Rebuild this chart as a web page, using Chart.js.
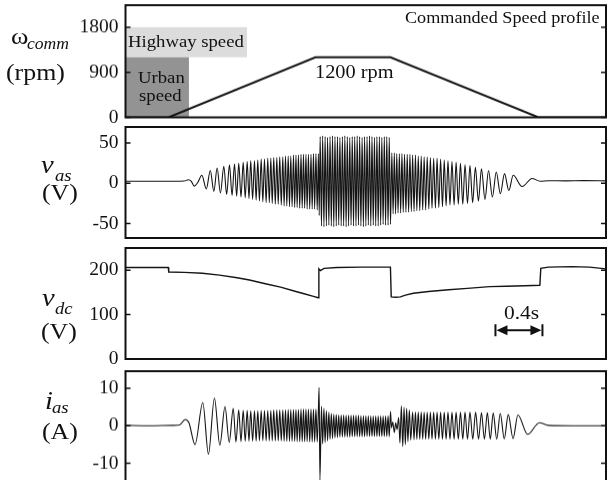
<!DOCTYPE html>
<html>
<head>
<meta charset="utf-8">
<script src="https://cdn.jsdelivr.net/npm/chart.js@4/dist/chart.umd.min.js"></script>
<style>
html, body { margin: 0; padding: 0; background: #fff; overflow: hidden; }
#page { position: relative; width: 610px; height: 480px; overflow: hidden; font-family: "Liberation Serif", "Times New Roman", serif; color: #111; }
.panel { position: absolute; left: 0; width: 610px; }
.lbl { position: absolute; white-space: nowrap; line-height: 1; transform: scaleX(1.1); transform-origin: 0 50%; }
.it { font-style: italic; }
</style>
</head>
<body>
<div id="page">
  <div class="panel" style="top:-17px;height:155.5px"><canvas id="speedChart"></canvas></div>
  <div class="panel" style="top:105px;height:155px"><canvas id="vasChart"></canvas></div>
  <div class="panel" style="top:226px;height:155px"><canvas id="vdcChart"></canvas></div>
  <div class="panel" style="top:349px;height:157.7px"><canvas id="iasChart"></canvas></div>

  <!-- axis titles -->
  <div class="lbl" style="left:11px;top:24px;font-size:24px">ω</div>
  <div class="lbl it" style="left:27px;top:35.5px;font-size:16px">comm</div>
  <div class="lbl" style="left:6px;top:61px;font-size:23.5px">(rpm)</div>

  <div class="lbl it" style="left:41px;top:152px;font-size:26px">v</div>
  <div class="lbl it" style="left:55px;top:166.5px;font-size:17px">as</div>
  <div class="lbl" style="left:42px;top:181px;font-size:23.5px">(V)</div>

  <div class="lbl it" style="left:42px;top:285px;font-size:26px">v</div>
  <div class="lbl it" style="left:55px;top:300px;font-size:17px">dc</div>
  <div class="lbl" style="left:41px;top:320px;font-size:23.5px">(V)</div>

  <div class="lbl it" style="left:45px;top:388px;font-size:26px">i</div>
  <div class="lbl it" style="left:52px;top:399px;font-size:17px">as</div>
  <div class="lbl" style="left:42px;top:420px;font-size:23.5px">(A)</div>

  <!-- annotations -->
  <div class="lbl" style="left:405px;top:10px;font-size:16.5px">Commanded Speed profile</div>
  <div class="lbl" style="left:128px;top:33px;font-size:17px">Highway speed</div>
  <div class="lbl" style="left:138px;top:69px;font-size:17px">Urban</div>
  <div class="lbl" style="left:139px;top:87px;font-size:17px">speed</div>
  <div class="lbl" style="left:315px;top:62.5px;font-size:18.5px">1200 rpm</div>
  <div class="lbl" style="left:504px;top:303px;font-size:19.5px">0.4s</div>
</div>

<script>
// time axis (s)
const timeEnd = 4.09;

// tick values per panel
const speedTicks = [0, 900, 1800];
const vasTicks = [-50, 0, 50];
const vdcTicks = [0, 100, 200];
const iasTicks = [-10, 0, 10];

// shaded speed ranges: [t0, t1, low rpm, high rpm]
const highwayBand = [0, 1.034, 1200, 1800];
const urbanBand = [0, 0.54, 0, 1200];

// 0.4 s scale bar on the vdc panel: [start s, length s, level V]
const scaleBar = [3.149, 0.4, 65];

// commanded speed [t, rpm]
const speedProfile = [[0, 0], [0.366, 0], [1.617, 1200], [2.255, 1200], [3.515, 0], [4.09, 0]];

// phase voltage peaks [t, V]
const vasWave = [
  [0.00, 2.5], [0.20, 2.6], [0.40, 2.5], [0.50, 2.8], [0.535, 4.5], [0.56, 2.5], [0.585, -3.5], [0.615, 1.0],
  [0.650, 10], [0.688, -7], [0.722, 16], [0.752, -10], [0.780, 19], [0.808, -12], [0.837, 21], [0.861, -14],
  [0.885, 23], [0.907, -15], [0.928, 24], [0.946, -16], [0.964, 25], [0.983, -17], [1.002, 26], [1.019, -18],
  [1.036, 27], [1.051, -19], [1.066, 28], [1.082, -20], [1.098, 28], [1.112, -21], [1.126, 29], [1.140, -22],
  [1.155, 30], [1.169, -23], [1.183, 30], [1.197, -24], [1.211, 31], [1.224, -24], [1.237, 31], [1.249, -25],
  [1.262, 32], [1.275, -26], [1.288, 32], [1.300, -26], [1.313, 33], [1.326, -27], [1.339, 33], [1.350, -28],
  [1.362, 34], [1.373, -28], [1.385, 34], [1.396, -29], [1.407, 34], [1.418, -29], [1.430, 35], [1.440, -30],
  [1.451, 35], [1.461, -30], [1.472, 35], [1.483, -31], [1.494, 36], [1.504, -31], [1.515, 36], [1.525, -31],
  [1.536, 36], [1.546, -32], [1.557, 36], [1.568, -32], [1.579, 36], [1.589, -32], [1.600, 37], [1.610, -32],
  [1.621, 37], [1.632, -33], [1.642, 37], [1.649, -40],
  [1.657, 58], [1.668, -53], [1.678, 59], [1.689, -54], [1.699, 58], [1.710, -53], [1.720, 57], [1.731, -52],
  [1.741, 58], [1.752, -53], [1.762, 59], [1.773, -54], [1.783, 58], [1.794, -53], [1.804, 58], [1.815, -52],
  [1.825, 57], [1.836, -53], [1.846, 58], [1.857, -53], [1.867, 59], [1.878, -54], [1.888, 58], [1.899, -53],
  [1.909, 57], [1.920, -52], [1.930, 58], [1.941, -53], [1.951, 58], [1.962, -53], [1.972, 59], [1.983, -52],
  [1.993, 58], [2.004, -53], [2.014, 57], [2.025, -54], [2.035, 58], [2.046, -53], [2.056, 58], [2.067, -52],
  [2.077, 59], [2.088, -53], [2.098, 58], [2.109, -52], [2.119, 57], [2.130, -53], [2.140, 58], [2.151, -53],
  [2.161, 58], [2.172, -52], [2.182, 57], [2.193, -51], [2.203, 58], [2.214, -52], [2.224, 58], [2.235, -52],
  [2.245, 57], [2.256, -51],
  [2.267, 38], [2.278, -38], [2.288, 38], [2.299, -38], [2.309, 37], [2.320, -37], [2.331, 37], [2.342, -37],
  [2.353, 37], [2.364, -36], [2.375, 36], [2.387, -36], [2.398, 36], [2.410, -36], [2.421, 36], [2.433, -35],
  [2.444, 35], [2.456, -35], [2.468, 35], [2.480, -34], [2.492, 34], [2.505, -34], [2.517, 34], [2.530, -33],
  [2.542, 33], [2.555, -33], [2.568, 33], [2.582, -32], [2.595, 32], [2.609, -31], [2.623, 31], [2.638, -31],
  [2.652, 31], [2.667, -30], [2.682, 30], [2.698, -29], [2.713, 29], [2.729, -28], [2.745, 28], [2.762, -27],
  [2.779, 27], [2.797, -27], [2.814, 26], [2.833, -26], [2.851, 25], [2.871, -26], [2.890, 23], [2.911, -25],
  [2.932, 22], [2.955, -24], [2.978, 20], [3.004, -22], [3.030, 18], [3.060, -20], [3.090, 16], [3.123, -17],
  [3.156, 14], [3.191, -13], [3.226, 12], [3.263, -9], [3.300, 10],
  [3.376, -4], [3.461, 6], [3.530, 2.5], [3.600, 3.2], [3.750, 3.0], [3.900, 3.3], [4.090, 3.0]
];

// dc link voltage [t, V]
const vdcLevel = [
  [0, 206], [0.20, 206], [0.364, 206], [0.368, 196], [0.50, 195], [0.655, 193], [0.80, 189], [0.95, 183],
  [1.055, 178], [1.20, 169], [1.32, 162], [1.45, 152], [1.52, 147], [1.60, 141], [1.640, 138], [1.646, 203],
  [1.660, 199], [1.690, 204], [1.80, 206], [2.00, 207], [2.255, 207], [2.262, 140], [2.30, 139], [2.34, 140],
  [2.383, 144], [2.45, 148], [2.58, 152], [2.75, 156], [2.91, 159], [3.10, 163], [3.24, 164], [3.40, 165],
  [3.527, 166], [3.535, 204], [3.60, 207], [3.80, 208], [3.95, 207], [4.09, 203]
];

// phase current peaks [t, A]
const iasWave = [
  [0.00, 0.1], [0.20, 0.0], [0.40, 0.1], [0.46, 0.2], [0.508, 1.7], [0.540, 0.8], [0.592, -5.0], [0.658, 6.2],
  [0.706, -7.6], [0.757, 7.4], [0.803, -5.2], [0.847, 5.1], [0.883, -4.4], [0.917, 4.6], [0.940, -4.3], [0.964, 4.2],
  [0.983, -4.2], [1.002, 4.1], [1.019, -4.1], [1.036, 4.1], [1.051, -4.1], [1.066, 4.0], [1.082, -4.1], [1.098, 4.0],
  [1.112, -4.1], [1.126, 4.0], [1.140, -4.0], [1.155, 4.1], [1.169, -4.0], [1.183, 4.1], [1.197, -4.0], [1.211, 4.1],
  [1.224, -4.0], [1.237, 4.1], [1.249, -4.0], [1.262, 4.2], [1.275, -4.0], [1.288, 4.2], [1.300, -4.0], [1.313, 4.2],
  [1.326, -4.0], [1.339, 4.2], [1.350, -4.1], [1.362, 4.2], [1.373, -4.1], [1.385, 4.3], [1.396, -4.1], [1.407, 4.3],
  [1.418, -4.1], [1.430, 4.3], [1.440, -4.1], [1.451, 4.3], [1.461, -4.2], [1.472, 4.3], [1.483, -4.2], [1.494, 4.4],
  [1.504, -4.2], [1.515, 4.4], [1.525, -4.2], [1.536, 4.4], [1.546, -4.2], [1.557, 4.4], [1.568, -4.3], [1.579, 4.4],
  [1.589, -4.3], [1.600, 4.4], [1.610, -4.3], [1.621, 4.4], [1.632, -4.3], [1.642, 4.4],
  [1.648, 10.2], [1.655, -14.5],
  [1.668, 5.2], [1.678, -4.8], [1.689, 4.6], [1.699, -4.4], [1.710, 4.0], [1.720, -4.0], [1.731, 3.6], [1.741, -3.6],
  [1.752, 3.3], [1.762, -3.4], [1.773, 3.1], [1.783, -3.2], [1.794, 3.0], [1.804, -3.1], [1.815, 2.9], [1.825, -3.0],
  [1.836, 2.9], [1.846, -3.0], [1.857, 2.9], [1.867, -3.0], [1.878, 2.8], [1.888, -3.0], [1.899, 2.8], [1.909, -3.0],
  [1.920, 2.8], [1.930, -2.9], [1.941, 2.8], [1.951, -2.9], [1.962, 2.8], [1.972, -2.9], [1.983, 2.8], [1.993, -2.9],
  [2.004, 2.7], [2.014, -2.9], [2.025, 2.7], [2.035, -2.9], [2.046, 2.7], [2.056, -2.8], [2.067, 2.7], [2.077, -2.8],
  [2.088, 2.6], [2.098, -2.8], [2.109, 2.6], [2.119, -2.8], [2.130, 2.6], [2.140, -2.8], [2.151, 2.6], [2.161, -2.8],
  [2.172, 2.6], [2.182, -2.8], [2.193, 2.6], [2.203, -2.8], [2.214, 2.6], [2.224, -2.8], [2.235, 2.7], [2.245, -2.9],
  [2.256, 3.8],
  [2.264, -0.5], [2.275, 1.0], [2.288, -1.8], [2.300, 0.8], [2.312, -1.0], [2.325, 2.2], [2.336, -4.6], [2.348, 5.3],
  [2.360, -5.5], [2.371, 4.9], [2.382, -5.0], [2.393, 4.6], [2.404, -4.2], [2.416, 4.2], [2.428, -3.8],
  [2.444, 3.7], [2.456, -3.7], [2.468, 3.7], [2.480, -3.6], [2.492, 3.7], [2.505, -3.6], [2.517, 3.7], [2.530, -3.6],
  [2.542, 3.6], [2.555, -3.6], [2.568, 3.6], [2.582, -3.6], [2.595, 3.6], [2.609, -3.6], [2.623, 3.6], [2.638, -3.6],
  [2.652, 3.6], [2.667, -3.6], [2.682, 3.6], [2.698, -3.6], [2.713, 3.6], [2.729, -3.6], [2.745, 3.6], [2.762, -3.6],
  [2.779, 3.6], [2.797, -3.6], [2.814, 3.6], [2.833, -3.6], [2.851, 3.6], [2.871, -3.6], [2.890, 3.6], [2.911, -3.6],
  [2.932, 3.6], [2.956, -3.6], [2.980, 3.6], [3.005, -3.6], [3.030, 3.5], [3.055, -3.6], [3.080, 3.5], [3.105, -3.6],
  [3.130, 3.4], [3.160, -3.6], [3.190, 3.3], [3.224, -3.5], [3.258, 3.0], [3.299, -3.4], [3.340, 2.9], [3.423, -2.3],
  [3.523, 0.8], [3.600, 0.1], [3.800, 0.0], [4.090, 0.0]
];

const textFont = '"Liberation Serif", "Times New Roman", serif';

// box around every plot with small inward ticks on both sides
const framePlugin = {
    id: 'frame',
    afterDraw(chart) {
        const { ctx, chartArea: a, scales: { y } } = chart;
        ctx.save();
        ctx.strokeStyle = '#111';
        ctx.lineWidth = 2;
        ctx.strokeRect(a.left, a.top, a.right - a.left, a.bottom - a.top);
        ctx.lineWidth = 1.5;
        ctx.beginPath();
        for (const t of y.ticks) {
            const py = y.getPixelForValue(t.value);
            ctx.moveTo(a.left, py);
            ctx.lineTo(a.left + 5, py);
            ctx.moveTo(a.right - 5, py);
            ctx.lineTo(a.right, py);
        }
        ctx.stroke();
        ctx.restore();
    }
};

const bandsPlugin = {
    id: 'bands',
    beforeDatasetsDraw(chart) {
        const { ctx, scales: { x, y } } = chart;
        const fillBand = (band, color) => {
            const x0 = x.getPixelForValue(band[0]), x1 = x.getPixelForValue(band[1]);
            const y0 = y.getPixelForValue(band[3]), y1 = y.getPixelForValue(band[2]);
            ctx.fillStyle = color;
            ctx.fillRect(x0, y0, x1 - x0, y1 - y0);
        };
        ctx.save();
        fillBand(highwayBand, '#dcdcdc');
        fillBand(urbanBand, '#939393');
        ctx.restore();
    }
};

const scaleBarPlugin = {
    id: 'scaleBar',
    afterDatasetsDraw(chart) {
        const { ctx, scales: { x, y } } = chart;
        const x0 = x.getPixelForValue(scaleBar[0]);
        const x1 = x.getPixelForValue(scaleBar[0] + scaleBar[1]);
        const py = y.getPixelForValue(scaleBar[2]);
        ctx.save();
        ctx.strokeStyle = '#111';
        ctx.fillStyle = '#111';
        ctx.lineWidth = 2;
        ctx.beginPath();
        ctx.moveTo(x0, py - 6); ctx.lineTo(x0, py + 6);
        ctx.moveTo(x1, py - 6); ctx.lineTo(x1, py + 6);
        ctx.moveTo(x0 + 6, py); ctx.lineTo(x1 - 6, py);
        ctx.stroke();
        ctx.beginPath();
        ctx.moveTo(x0 + 1, py); ctx.lineTo(x0 + 12, py - 5); ctx.lineTo(x0 + 12, py + 5); ctx.closePath();
        ctx.moveTo(x1 - 1, py); ctx.lineTo(x1 - 12, py - 5); ctx.lineTo(x1 - 12, py + 5); ctx.closePath();
        ctx.fill();
        ctx.restore();
    }
};

function panelOptions(yMin, yMax, ticks) {
    return {
        responsive: true,
        maintainAspectRatio: false,
        animation: false,
        events: [],
        layout: { padding: { top: 22, bottom: 22, left: 0, right: 4 } },
        plugins: { legend: { display: false }, tooltip: { enabled: false } },
        elements: { point: { radius: 0 } },
        scales: {
            x: { type: 'linear', min: 0, max: timeEnd, display: false },
            y: {
                type: 'linear',
                min: yMin,
                max: yMax,
                afterFit: (s) => { s.width = 125.5; },
                afterBuildTicks: (s) => { s.ticks = ticks.map(v => ({ value: v })); },
                grid: { display: false, drawTicks: false },
                border: { display: false },
                ticks: {
                    padding: 7,
                    color: '#111',
                    font: { family: textFont, size: 19.5 },
                    callback: (v) => String(v)
                }
            }
        }
    };
}

function lineSet(points, width, smooth) {
    return {
        data: points.map(p => ({ x: p[0], y: p[1] })),
        borderColor: '#151515',
        borderWidth: width,
        fill: false,
        pointRadius: 0,
        tension: 0,
        cubicInterpolationMode: smooth ? 'monotone' : 'default'
    };
}

new Chart(document.getElementById('speedChart'), {
    type: 'line',
    data: { datasets: [lineSet(speedProfile, 2, false)] },
    options: panelOptions(0, 2240, speedTicks),
    plugins: [bandsPlugin, framePlugin]
});

new Chart(document.getElementById('vasChart'), {
    type: 'line',
    data: { datasets: [lineSet(vasWave, 1.1, true)] },
    options: panelOptions(-68, 70, vasTicks),
    plugins: [framePlugin]
});

new Chart(document.getElementById('vdcChart'), {
    type: 'line',
    data: { datasets: [lineSet(vdcLevel, 1.4, false)] },
    options: panelOptions(0, 250, vdcTicks),
    plugins: [scaleBarPlugin, framePlugin]
});

new Chart(document.getElementById('iasChart'), {
    type: 'line',
    data: { datasets: [lineSet(iasWave, 1.1, true)] },
    options: panelOptions(-16, 14.6, iasTicks),
    plugins: [framePlugin]
});
</script>
</body>
</html>
